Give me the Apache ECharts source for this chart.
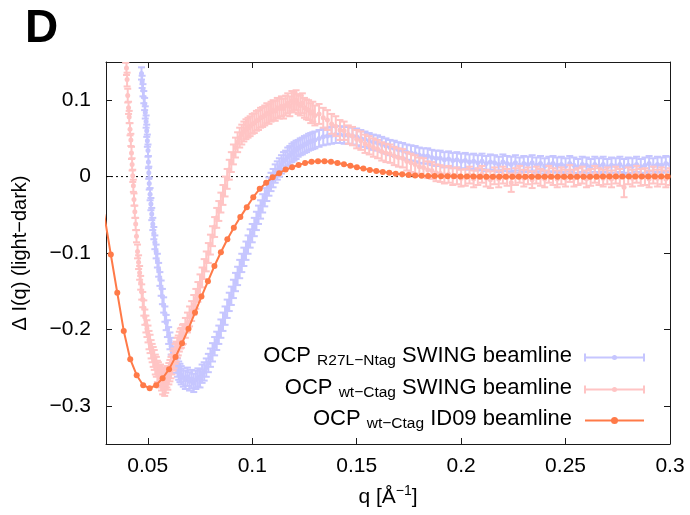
<!DOCTYPE html>
<html><head><meta charset="utf-8">
<script src="https://cdn.jsdelivr.net/npm/echarts@6/dist/echarts.min.js"></script>
<style>html,body{margin:0;padding:0;background:#fff}#c{width:690px;height:515px}</style>
</head><body><div id="c"></div>
<script>
// ---------- data ----------
const xTicks = [0.05, 0.1, 0.15, 0.2, 0.25, 0.3];
const yTicks = [-0.3, -0.2, -0.1, 0, 0.1];
const seriesNames = ['OCP R27L\u2212Ntag SWING beamline', 'OCP wt\u2212Ctag SWING beamline', 'OCP wt\u2212Ctag ID09 beamline'];
const zeroLine = [[0.03, 0], [0.3, 0]];

// [q, dI, error]
const blueSwing = [
[0.0470,0.135,0.008],[0.0473,0.124,0.008],[0.0477,0.113,0.008],[0.0481,0.104,0.008],[0.0485,0.095,0.008],
[0.0488,0.084,0.008],[0.0492,0.072,0.008],[0.0495,0.060,0.008],[0.0498,0.047,0.008],[0.0501,0.034,0.008],
[0.0503,0.019,0.008],[0.0505,0.005,0.008],[0.0507,-0.009,0.008],[0.0511,-0.023,0.008],[0.0515,-0.036,0.008],
[0.0519,-0.049,0.008],[0.0524,-0.062,0.008],[0.0529,-0.074,0.008],[0.0534,-0.086,0.009],[0.0540,-0.098,0.009],
[0.0546,-0.110,0.009],[0.0552,-0.122,0.009],[0.0558,-0.134,0.009],[0.0564,-0.146,0.010],[0.0570,-0.157,0.010],
[0.0576,-0.168,0.010],[0.0582,-0.180,0.010],[0.0588,-0.191,0.010],[0.0594,-0.199,0.011],[0.0600,-0.208,0.011],
[0.0606,-0.215,0.011],[0.0612,-0.222,0.011],[0.0618,-0.229,0.011],[0.0624,-0.235,0.012],[0.0630,-0.240,0.012],
[0.0636,-0.245,0.012],[0.0642,-0.250,0.012],[0.0648,-0.254,0.012],[0.0654,-0.257,0.012],[0.0660,-0.260,0.012],
[0.067,-0.263,0.012],[0.068,-0.266,0.012],[0.069,-0.262,0.012],[0.070,-0.268,0.012],[0.071,-0.265,0.012],
[0.072,-0.270,0.012],[0.073,-0.266,0.012],[0.074,-0.263,0.012],[0.075,-0.264,0.012],[0.076,-0.258,0.012],
[0.077,-0.255,0.012],[0.078,-0.250,0.012],[0.079,-0.244,0.012],[0.080,-0.237,0.012],[0.081,-0.230,0.012],
[0.082,-0.222,0.012],[0.083,-0.215,0.012],[0.084,-0.207,0.012],[0.085,-0.199,0.012],[0.086,-0.190,0.012],
[0.087,-0.182,0.012],[0.088,-0.173,0.012],[0.089,-0.164,0.012],[0.090,-0.156,0.012],[0.091,-0.147,0.012],
[0.092,-0.138,0.012],[0.093,-0.130,0.012],[0.094,-0.121,0.012],[0.095,-0.113,0.012],[0.096,-0.105,0.012],
[0.097,-0.097,0.012],[0.098,-0.089,0.012],[0.099,-0.081,0.012],[0.100,-0.074,0.012],[0.101,-0.066,0.012],
[0.102,-0.058,0.012],[0.103,-0.050,0.012],[0.104,-0.043,0.012],[0.105,-0.035,0.012],[0.106,-0.027,0.012],
[0.107,-0.020,0.012],[0.108,-0.013,0.012],[0.109,-0.007,0.012],[0.110,-0.002,0.012],[0.111,0.004,0.012],
[0.112,0.008,0.012],[0.113,0.012,0.012],[0.114,0.016,0.012],[0.115,0.020,0.012],[0.116,0.022,0.012],
[0.117,0.026,0.012],[0.118,0.028,0.012],[0.119,0.031,0.012],[0.120,0.033,0.012],[0.121,0.035,0.012],
[0.122,0.037,0.011],[0.123,0.039,0.011],[0.124,0.040,0.011],[0.125,0.042,0.011],[0.126,0.043,0.011],
[0.127,0.045,0.011],[0.128,0.046,0.011],[0.129,0.047,0.011],[0.130,0.048,0.011],[0.132,0.050,0.011],
[0.134,0.052,0.011],[0.136,0.053,0.011],[0.138,0.054,0.011],[0.140,0.055,0.011],[0.142,0.055,0.011],
[0.144,0.054,0.011],[0.146,0.054,0.011],[0.148,0.053,0.011],[0.150,0.052,0.011],[0.152,0.050,0.011],
[0.154,0.049,0.010],[0.156,0.047,0.010],[0.158,0.045,0.010],[0.160,0.044,0.010],[0.162,0.042,0.010],
[0.164,0.040,0.010],[0.166,0.038,0.010],[0.168,0.037,0.010],[0.170,0.035,0.010],[0.172,0.034,0.010],
[0.174,0.032,0.010],[0.176,0.031,0.010],[0.178,0.030,0.010],[0.180,0.028,0.010],[0.182,0.027,0.010],
[0.184,0.027,0.010],[0.186,0.025,0.010],[0.188,0.024,0.010],[0.190,0.024,0.010],[0.192,0.022,0.010],
[0.194,0.023,0.010],[0.196,0.021,0.010],[0.198,0.022,0.010],[0.200,0.020,0.010],[0.202,0.021,0.010],
[0.204,0.019,0.010],[0.206,0.020,0.010],[0.208,0.018,0.010],[0.210,0.020,0.010],[0.212,0.017,0.010],
[0.214,0.019,0.010],[0.216,0.018,0.010],[0.218,0.016,0.010],[0.220,0.019,0.010],[0.222,0.017,0.010],
[0.224,0.016,0.010],[0.226,0.018,0.010],[0.228,0.015,0.010],[0.230,0.017,0.010],[0.232,0.016,0.010],
[0.234,0.018,0.010],[0.236,0.015,0.010],[0.238,0.017,0.010],[0.240,0.014,0.010],[0.242,0.016,0.010],
[0.244,0.017,0.010],[0.246,0.015,0.010],[0.248,0.016,0.010],[0.250,0.014,0.010],[0.252,0.017,0.010],
[0.254,0.015,0.010],[0.256,0.013,0.010],[0.258,0.016,0.010],[0.260,0.015,0.010],[0.262,0.013,0.010],
[0.264,0.016,0.010],[0.266,0.014,0.010],[0.268,0.016,0.010],[0.270,0.013,0.010],[0.272,0.015,0.010],
[0.274,0.014,0.010],[0.276,0.016,0.010],[0.278,0.013,0.010],[0.280,0.015,0.010],[0.282,0.014,0.010],
[0.284,0.016,0.010],[0.286,0.013,0.010],[0.288,0.015,0.010],[0.290,0.017,0.010],[0.292,0.014,0.010],
[0.294,0.016,0.010],[0.296,0.015,0.010],[0.298,0.017,0.010],[0.300,0.016,0.010]
];

const pinkSwing = [
[0.0394,0.158,0.009],[0.0398,0.142,0.009],[0.0401,0.127,0.009],[0.0404,0.106,0.009],[0.0408,0.090,0.008],
[0.0411,0.078,0.008],[0.0415,0.062,0.008],[0.0419,0.048,0.008],[0.0422,0.031,0.008],[0.0425,0.016,0.008],
[0.0428,0.001,0.008],[0.0431,-0.012,0.008],[0.0434,-0.030,0.008],[0.0438,-0.046,0.008],[0.0442,-0.062,0.008],
[0.0446,-0.078,0.008],[0.0451,-0.098,0.009],[0.0456,-0.112,0.009],[0.0461,-0.126,0.009],[0.0466,-0.139,0.009],
[0.0471,-0.151,0.010],[0.0476,-0.161,0.010],[0.0481,-0.172,0.010],[0.0486,-0.184,0.010],[0.0491,-0.193,0.011],
[0.0496,-0.199,0.011],[0.0501,-0.206,0.011],[0.0506,-0.214,0.012],[0.0511,-0.219,0.012],[0.0516,-0.226,0.012],
[0.0521,-0.231,0.012],[0.0526,-0.236,0.013],[0.0531,-0.240,0.013],[0.0536,-0.246,0.013],[0.0541,-0.249,0.013],
[0.0546,-0.255,0.014],[0.0551,-0.257,0.014],[0.0556,-0.262,0.014],[0.0561,-0.260,0.014],[0.0566,-0.266,0.014],
[0.0571,-0.270,0.015],[0.0576,-0.264,0.014],[0.0581,-0.272,0.015],[0.0586,-0.268,0.015],[0.0591,-0.262,0.014],
[0.0596,-0.265,0.014],[0.0601,-0.258,0.014],[0.0606,-0.254,0.014],[0.0611,-0.250,0.014],[0.0616,-0.246,0.013],
[0.0621,-0.241,0.013],[0.0626,-0.238,0.013],[0.0631,-0.232,0.013],[0.0636,-0.229,0.013],[0.0641,-0.224,0.013],
[0.0646,-0.221,0.013],[0.0651,-0.216,0.013],[0.0656,-0.212,0.013],[0.0661,-0.211,0.013],[0.0666,-0.207,0.013],
[0.067,-0.206,0.013],[0.068,-0.198,0.013],[0.069,-0.191,0.013],[0.070,-0.183,0.013],[0.071,-0.176,0.013],
[0.072,-0.168,0.013],[0.073,-0.160,0.013],[0.074,-0.151,0.013],[0.075,-0.141,0.013],[0.076,-0.132,0.013],
[0.077,-0.121,0.013],[0.078,-0.111,0.013],[0.079,-0.100,0.013],[0.080,-0.089,0.013],[0.081,-0.078,0.013],
[0.082,-0.066,0.013],[0.083,-0.054,0.013],[0.084,-0.045,0.013],[0.085,-0.034,0.013],[0.086,-0.024,0.013],
[0.087,-0.013,0.013],[0.088,-0.003,0.013],[0.089,0.009,0.013],[0.090,0.019,0.013],[0.091,0.029,0.013],
[0.092,0.038,0.013],[0.093,0.045,0.013],[0.094,0.051,0.013],[0.095,0.055,0.013],[0.096,0.059,0.013],
[0.097,0.062,0.013],[0.098,0.064,0.013],[0.099,0.066,0.013],[0.100,0.069,0.013],[0.101,0.070,0.013],
[0.102,0.073,0.013],[0.103,0.074,0.013],[0.104,0.077,0.013],[0.105,0.078,0.013],[0.106,0.080,0.013],
[0.107,0.083,0.013],[0.108,0.082,0.013],[0.109,0.085,0.013],[0.110,0.087,0.013],[0.111,0.086,0.013],
[0.112,0.090,0.013],[0.113,0.089,0.013],[0.114,0.092,0.013],[0.115,0.089,0.013],[0.116,0.093,0.013],
[0.117,0.096,0.013],[0.118,0.092,0.013],[0.119,0.099,0.013],[0.120,0.097,0.013],[0.121,0.100,0.013],
[0.122,0.095,0.013],[0.123,0.093,0.013],[0.124,0.096,0.013],[0.125,0.090,0.013],[0.126,0.088,0.013],
[0.127,0.087,0.013],[0.128,0.083,0.013],[0.129,0.085,0.013],[0.130,0.080,0.013],[0.132,0.082,0.013],
[0.134,0.077,0.013],[0.136,0.074,0.013],[0.138,0.069,0.013],[0.140,0.066,0.013],[0.142,0.061,0.013],
[0.144,0.060,0.012],[0.146,0.055,0.012],[0.148,0.053,0.012],[0.150,0.049,0.012],[0.152,0.047,0.012],
[0.154,0.043,0.012],[0.156,0.041,0.012],[0.158,0.038,0.012],[0.160,0.036,0.012],[0.162,0.033,0.012],
[0.164,0.031,0.012],[0.166,0.030,0.012],[0.168,0.027,0.012],[0.170,0.025,0.012],[0.172,0.024,0.012],
[0.174,0.020,0.012],[0.176,0.018,0.012],[0.178,0.016,0.012],[0.180,0.013,0.012],[0.182,0.012,0.012],
[0.184,0.009,0.011],[0.186,0.008,0.011],[0.188,0.005,0.011],[0.190,0.004,0.011],[0.192,0.002,0.011],
[0.194,0.003,0.011],[0.196,0.000,0.011],[0.198,0.001,0.011],[0.200,-0.002,0.011],[0.202,-0.001,0.011],
[0.204,0.002,0.011],[0.206,-0.003,0.011],[0.208,0.000,0.011],[0.210,0.003,0.011],[0.212,-0.002,0.011],
[0.214,-0.004,0.011],[0.216,0.001,0.011],[0.218,-0.003,0.011],[0.220,0.002,0.011],[0.222,-0.001,0.011],
[0.224,-0.008,0.012],[0.226,0.000,0.011],[0.228,0.003,0.011],[0.230,-0.002,0.011],[0.232,0.001,0.011],
[0.234,-0.004,0.011],[0.236,0.002,0.011],[0.238,-0.001,0.011],[0.240,-0.003,0.011],[0.242,0.003,0.011],
[0.244,0.000,0.011],[0.246,-0.003,0.011],[0.248,0.001,0.011],[0.250,-0.002,0.011],[0.252,0.004,0.011],
[0.254,-0.002,0.011],[0.256,0.000,0.011],[0.258,0.002,0.011],[0.260,-0.003,0.011],[0.262,-0.001,0.011],
[0.264,0.003,0.011],[0.266,0.000,0.011],[0.268,-0.002,0.011],[0.270,0.001,0.011],[0.272,-0.003,0.011],
[0.274,0.002,0.011],[0.276,-0.001,0.011],[0.278,-0.014,0.013],[0.280,0.001,0.011],[0.282,-0.002,0.011],
[0.284,0.003,0.011],[0.286,-0.001,0.011],[0.288,0.000,0.011],[0.290,-0.003,0.011],[0.292,0.002,0.011],
[0.294,-0.002,0.011],[0.296,0.001,0.011],[0.298,-0.003,0.011],[0.300,0.000,0.011]
];

// [q, dI]
const orangeId09 = [
[0.0291,-0.049],[0.0323,-0.102],[0.0354,-0.152],[0.0385,-0.202],[0.0416,-0.239],[0.0447,-0.260],
[0.0478,-0.273],[0.0509,-0.277],[0.0540,-0.273],[0.0571,-0.264],[0.0602,-0.252],[0.0633,-0.236],
[0.0664,-0.218],[0.0695,-0.199],[0.0726,-0.178],[0.0757,-0.157],[0.0788,-0.137],[0.0819,-0.117],
[0.0850,-0.099],[0.0881,-0.082],[0.0912,-0.067],[0.0943,-0.053],[0.0974,-0.040],[0.1005,-0.027],
[0.1036,-0.016],[0.1067,-0.008],[0.1098,-0.001],[0.1129,0.0045],[0.1160,0.0092],[0.1191,0.0123],
[0.1222,0.0153],[0.1253,0.0178],[0.1284,0.0195],[0.1315,0.0201],[0.1346,0.0200],[0.1377,0.0193],
[0.1408,0.0179],[0.1439,0.0161],[0.1470,0.0141],[0.1501,0.0123],[0.1532,0.0105],[0.1563,0.0088],
[0.1594,0.0074],[0.1625,0.0060],[0.1656,0.0049],[0.1687,0.0038],[0.1718,0.0030],[0.1749,0.0022],
[0.1780,0.0016],[0.1811,0.0012],[0.1842,0.0009],[0.1873,0.0007],[0.1904,0.0005],[0.1935,0.0004],
[0.1966,0.0003],[0.1997,0.0002],[0.2028,0.0001],[0.2059,0.0000],[0.2090,-0.0001],[0.2121,-0.0001],
[0.2152,-0.0002],[0.2183,-0.0002],[0.2214,-0.0002],[0.2245,-0.0003],[0.2276,-0.0003],[0.2307,-0.0003],
[0.2338,-0.0003],[0.2369,-0.0003],[0.2400,-0.0003],[0.2431,-0.0002],[0.2462,-0.0002],[0.2493,-0.0002],
[0.2524,-0.0002],[0.2555,-0.0001],[0.2586,-0.0001],[0.2617,-0.0001],[0.2648,-0.0001],[0.2679,0.0000],
[0.2710,0.0000],[0.2741,0.0000],[0.2772,0.0000],[0.2803,0.0000],[0.2834,0.0000],[0.2865,0.0000],
[0.2896,0.0000],[0.2927,0.0000],[0.2958,0.0000],[0.2989,0.0000]
];

// ---------- style ----------
const FONT = "'Liberation Sans', Arial, Helvetica, sans-serif";
const BLUE = '#c6c6ff', PINK = '#ffc4c4', ORANGE = '#ff7a48';
const AXC = '#1a1a1a';

function fmtY(v) {
  if (Math.abs(v) < 1e-9) return '0';
  return (v < 0 ? '\u2212' : '') + Math.abs(v);
}

function errRender(color) {
  return function (params, api) {
    const q = api.value(0), y = api.value(1), e = api.value(2);
    const c = api.coord([q, y]);
    const hi = api.coord([q, y + e]);
    const lo = api.coord([q, y - e]);
    const hw = 3.5;
    const st = { stroke: color, lineWidth: 2, fill: null };
    return {
      type: 'group',
      children: [
        { type: 'line', shape: { x1: c[0], y1: hi[1], x2: c[0], y2: lo[1] }, style: st },
        { type: 'line', shape: { x1: c[0] - hw, y1: hi[1], x2: c[0] + hw, y2: hi[1] }, style: st },
        { type: 'line', shape: { x1: c[0] - hw, y1: lo[1], x2: c[0] + hw, y2: lo[1] }, style: st },
        { type: 'circle', shape: { cx: c[0], cy: c[1], r: 2.5 }, style: { fill: color } }
      ]
    };
  };
}

function xAxisCfg(pos, labels) {
  return {
    type: 'value', position: pos, min: 0.03, max: 0.3,
    axisLine: { show: true, onZero: false, lineStyle: { color: AXC, width: 1 } },
    axisTick: { show: true, inside: true, length: 6, customValues: xTicks, lineStyle: { color: AXC } },
    axisLabel: { show: labels, customValues: xTicks, margin: 12, color: '#000', fontSize: 21, fontFamily: FONT,
      formatter: v => String(v) },
    splitLine: { show: false }
  };
}
function yAxisCfg(pos, labels) {
  return {
    type: 'value', position: pos, min: -0.35, max: 0.15,
    axisLine: { show: true, onZero: false, lineStyle: { color: AXC, width: 1 } },
    axisTick: { show: true, inside: true, length: 6, customValues: yTicks, lineStyle: { color: AXC } },
    axisLabel: { show: labels, customValues: yTicks, margin: 15, color: '#000', fontSize: 21, fontFamily: FONT,
      formatter: fmtY },
    splitLine: { show: false }
  };
}

const xBottom = xAxisCfg('bottom', true);
xBottom.name = 'q [\u00C5{sup|\u22121}]';
xBottom.nameLocation = 'middle';
xBottom.nameGap = 40;
xBottom.nameTextStyle = { color: '#000', fontSize: 21, fontFamily: FONT, lineHeight: 26,
  rich: { sup: { fontSize: 14, lineHeight: 14, verticalAlign: 'top', fontFamily: FONT, color: '#000' } } };

const yLeft = yAxisCfg('left', true);
yLeft.name = '\u0394 I(q) (light\u2212dark)';
yLeft.nameLocation = 'middle';
yLeft.nameGap = 76;
yLeft.nameTextStyle = { color: '#000', fontSize: 20, fontFamily: FONT };

// legend (drawn with graphic elements)
const legRows = [
  { y: 356, sub: 'R27L\u2212Ntag', rest: ' SWING beamline', color: BLUE, kind: 'err' },
  { y: 388, sub: 'wt\u2212Ctag', rest: ' SWING beamline', color: PINK, kind: 'err' },
  { y: 419, sub: 'wt\u2212Ctag', rest: ' ID09 beamline', color: ORANGE, kind: 'line' }
];
const graphics = [
  { type: 'text', style: { x: 25, y: 29, text: 'D', fontSize: 46, fontWeight: 'bold', fontFamily: FONT,
    fill: '#000', align: 'left', verticalAlign: 'middle' } }
];
legRows.forEach(r => {
  graphics.push({
    type: 'text', z: 10,
    style: {
      x: 572, y: r.y, align: 'right', verticalAlign: 'middle', fill: '#000',
      text: '{m|OCP }{s|' + r.sub + '}{m|' + r.rest + '}',
      rich: {
        m: { fontSize: 22, lineHeight: 26, fontFamily: FONT, fill: '#000' },
        s: { fontSize: 15.5, lineHeight: 15, verticalAlign: 'bottom', fontFamily: FONT, fill: '#000' }
      }
    }
  });
  const ly = r.y + 1.5;
  graphics.push({ type: 'line', z: 10, shape: { x1: 585, y1: ly, x2: 644, y2: ly },
    style: { stroke: r.color, lineWidth: 2 } });
  if (r.kind === 'err') {
    graphics.push({ type: 'line', z: 10, shape: { x1: 585, y1: ly - 4, x2: 585, y2: ly + 4 }, style: { stroke: r.color, lineWidth: 2 } });
    graphics.push({ type: 'line', z: 10, shape: { x1: 644, y1: ly - 4, x2: 644, y2: ly + 4 }, style: { stroke: r.color, lineWidth: 2 } });
    graphics.push({ type: 'circle', z: 10, shape: { cx: 614.5, cy: ly, r: 2.5 }, style: { fill: r.color } });
  } else {
    graphics.push({ type: 'circle', z: 10, shape: { cx: 614.5, cy: ly, r: 3.5 }, style: { fill: r.color } });
  }
});

const chart = echarts.init(document.getElementById('c'), null, { renderer: 'canvas', width: 690, height: 515 });
chart.setOption({
  backgroundColor: '#fff',
  animation: false,
  grid: { left: 106, right: 20, top: 62, bottom: 71, containLabel: false, outerBoundsMode: 'none' },
  xAxis: [xBottom, xAxisCfg('top', false)],
  yAxis: [yLeft, yAxisCfg('right', false)],
  graphic: graphics,
  series: [
    { name: 'zero', type: 'line', data: zeroLine, symbol: 'none', silent: true,
      lineStyle: { color: '#000', width: 1, type: [2, 3] }, z: 1 },
    { name: seriesNames[0], type: 'custom', data: blueSwing, renderItem: errRender(BLUE),
      encode: { x: 0, y: 1 }, clip: true, silent: true, z: 2 },
    { name: seriesNames[1], type: 'custom', data: pinkSwing, renderItem: errRender(PINK),
      encode: { x: 0, y: 1 }, clip: true, silent: true, z: 3 },
    { name: seriesNames[2], type: 'line', data: orangeId09, symbol: 'circle', symbolSize: 6, showSymbol: true,
      clip: true, silent: true, itemStyle: { color: ORANGE }, lineStyle: { color: ORANGE, width: 2 }, z: 4 }
  ]
});
</script>
</body></html>
